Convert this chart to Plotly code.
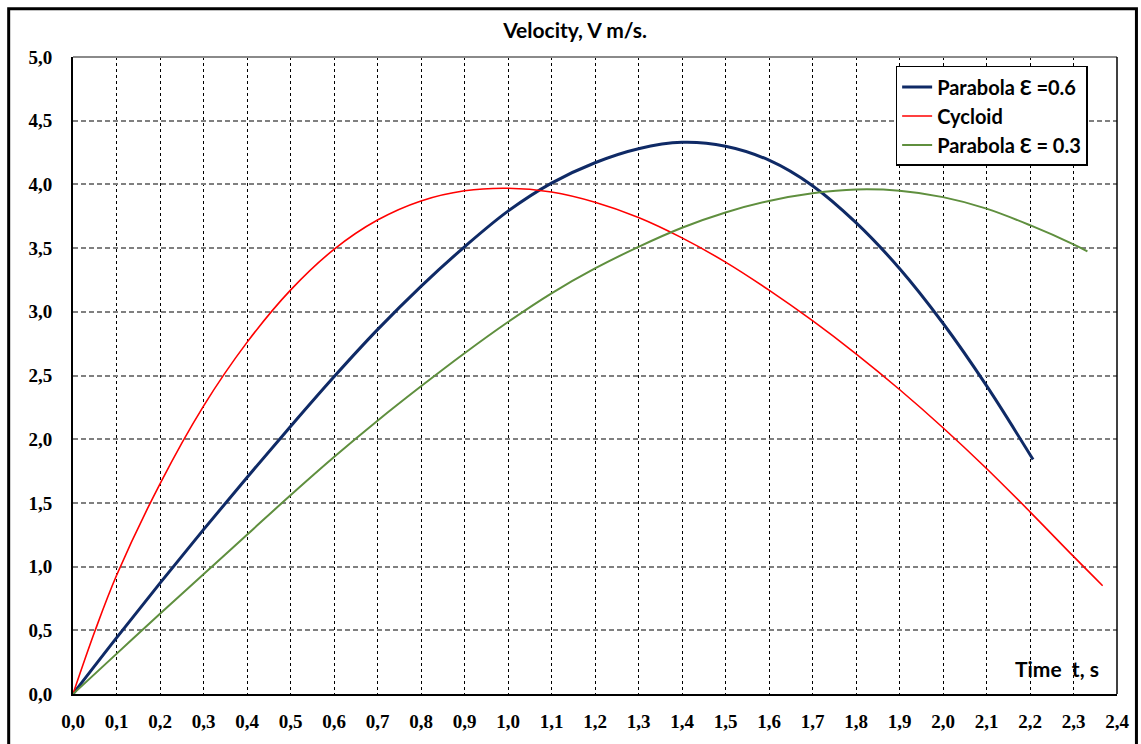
import plotly.graph_objects as go

# ---- data ----
t_par06 = [0.0, 0.1, 0.2, 0.3, 0.4, 0.5, 0.6, 0.7, 0.8, 0.9, 1.0, 1.1, 1.2, 1.3, 1.4,
           1.5, 1.6, 1.7, 1.8, 1.9, 2.0, 2.1, 2.207]
v_par06 = [0.0, 0.44, 0.87, 1.29, 1.70, 2.10, 2.49, 2.86, 3.20, 3.51, 3.79, 4.01, 4.17,
           4.28, 4.33, 4.30, 4.19, 3.99, 3.70, 3.34, 2.91, 2.42, 1.84]

t_cyc = [0.0, 0.05, 0.1, 0.2, 0.3, 0.4, 0.5, 0.6, 0.7, 0.8, 0.9, 1.0, 1.1, 1.2, 1.3, 1.4,
         1.5, 1.6, 1.7, 1.8, 1.9, 2.0, 2.1, 2.2, 2.3, 2.367]
v_cyc = [0.0, 0.49, 0.93, 1.65, 2.26, 2.76, 3.17, 3.49, 3.72, 3.87, 3.95, 3.97, 3.94, 3.86,
         3.74, 3.58, 3.39, 3.17, 2.93, 2.67, 2.39, 2.09, 1.77, 1.43, 1.08, 0.85]

t_par03 = [0.0, 0.1, 0.2, 0.3, 0.4, 0.5, 0.6, 0.7, 0.8, 0.9, 1.0, 1.1, 1.2, 1.3, 1.4, 1.5,
           1.6, 1.7, 1.8, 1.9, 2.0, 2.1, 2.2, 2.3, 2.332]
v_par03 = [0.0, 0.315, 0.63, 0.94, 1.25, 1.56, 1.86, 2.145, 2.415, 2.675, 2.92, 3.145, 3.34,
           3.51, 3.66, 3.78, 3.87, 3.93, 3.96, 3.95, 3.90, 3.81, 3.68, 3.53, 3.475]

series_names = ["Parabola \u0190 =0.6", "Cycloid", "Parabola \u0190 = 0.3"]
title_text = "Velocity, V m/s."
x_label = "Time\u00a0 t, s"

W, H = 1141, 744
ML, MR, MT, MB = 73, 21, 57, 46
PW, PH = W - ML - MR, H - MT - MB

def px_x(p):
    return (p - ML) / PW

def px_y(p):
    return (H - MB - p) / PH

fig = go.Figure()
fig.add_trace(go.Scatter(x=t_par06, y=v_par06, mode="lines", name=series_names[0],
                         line=dict(color="#0F2A66", width=3, shape="spline", smoothing=1.0)))
fig.add_trace(go.Scatter(x=t_cyc, y=v_cyc, mode="lines", name=series_names[1],
                         line=dict(color="#FF0000", width=1.6, shape="spline", smoothing=1.0)))
fig.add_trace(go.Scatter(x=t_par03, y=v_par03, mode="lines", name=series_names[2],
                         line=dict(color="#5F8F3E", width=2, shape="spline", smoothing=1.0)))

tick_font = dict(family="Liberation Serif", size=19, color="black", weight="bold")
label_font = dict(family="Lato", size=21, color="black", weight="bold")
legend_font = dict(family="Lato", size=20, color="black", weight="bold")

fig.update_layout(
    width=W, height=H,
    margin=dict(l=ML, r=MR, t=MT, b=MB, pad=0),
    paper_bgcolor="white", plot_bgcolor="white",
    separators=", ",
    showlegend=True,
    title=dict(text=title_text, x=0.504, xref="container", xanchor="center",
               y=1 - 31 / H, yref="container", yanchor="middle",
               font=dict(family="Lato", size=21, color="black", weight="bold")),
    legend=dict(x=px_x(898), y=px_y(66), xanchor="left", yanchor="top",
                bgcolor="white", bordercolor="black", borderwidth=1.5,
                font=legend_font, itemwidth=30),
    xaxis=dict(range=[0, 2.4], dtick=0.1, tick0=0, tickformat=".1f",
               showgrid=True, gridcolor="black", gridwidth=1, griddash="3px,3px",
               showline=True, linecolor="black", linewidth=2,
               zeroline=False, ticks="", tickfont=tick_font, ticklabelstandoff=9),
    yaxis=dict(range=[0, 5], dtick=0.5, tick0=0, tickformat=".1f",
               showgrid=True, gridcolor="#808080", gridwidth=1.5, griddash="5px,3px",
               showline=True, linecolor="black", linewidth=2,
               zeroline=False, ticks="", tickfont=tick_font, ticklabelstandoff=15),
    annotations=[dict(text=x_label, xref="paper", yref="paper",
                      x=px_x(1104), y=px_y(672), xanchor="right", yanchor="middle",
                      showarrow=False, font=label_font)],
    shapes=[
        dict(type="line", xref="paper", yref="paper", x0=0, x1=1, y0=1, y1=1,
             line=dict(color="#8A8A8A", width=2)),
        dict(type="line", xref="paper", yref="paper", x0=1, x1=1, y0=0, y1=1,
             line=dict(color="black", width=1.5)),
        dict(type="rect", xref="paper", yref="paper",
             x0=px_x(8.5), x1=px_x(1139.5), y0=px_y(760), y1=px_y(8.5),
             line=dict(color="black", width=3), layer="above"),
    ],
)

fig.write_html("out.html", config={"displayModeBar": False},
               post_script="document.body.style.margin='0px';")
